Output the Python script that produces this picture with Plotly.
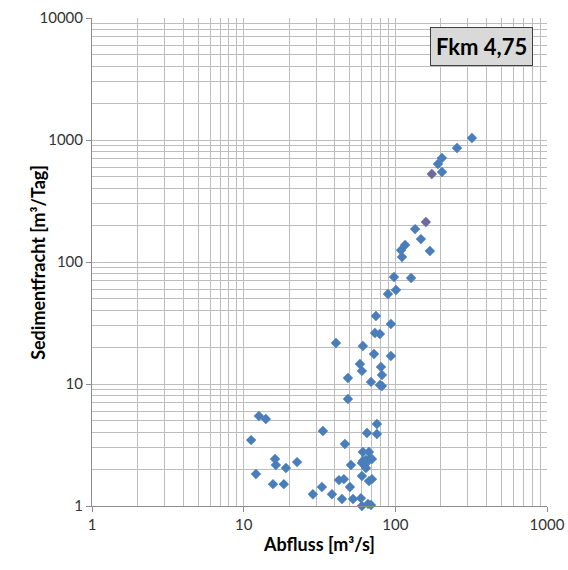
import plotly.graph_objects as go

# Abfluss [m³/s]
abfluss = [320, 255, 203, 191, 203, 135, 147.5, 116, 109, 110.6, 169, 98, 127, 101, 89.4,
           74.5, 93.5, 73.4, 79.1, 40.6, 61.1, 72.3, 93.5, 58.4, 60.2, 80.4, 81.6, 48.7, 69.1,
           79.1, 81.6, 48.7, 12.6, 14.0, 33.3, 11.2, 75.6, 65.0, 75.6, 46.5, 61.1, 67.0, 16.1,
           16.3, 22.5, 19.0, 12.05, 70.1, 67.0, 64.0, 61.1, 60.2, 63.0, 64.0, 51.0, 60.2, 70.1,
           67.0, 42.5, 45.8, 15.6, 18.4, 32.8, 50.2, 28.6, 38.2, 44.5, 52.6, 59.3, 60.2, 66.0, 69.1]
# Sedimentfracht [m³/Tag]
fracht = [1038, 860, 712, 636, 547, 186, 154, 138, 125, 110, 123, 75.4, 74, 59, 54.7,
          36.1, 31, 26.2, 25.7, 21.7, 20.5, 17.6, 16.97, 14.6, 12.8, 13.8, 11.85, 11.2, 10.4,
          9.82, 9.63, 7.54, 5.47, 5.17, 4.12, 3.47, 4.70, 3.97, 3.89, 3.22, 2.77, 2.77, 2.43,
          2.17, 2.29, 2.05, 1.83, 2.43, 2.38, 2.38, 2.34, 2.25, 2.21, 2.05, 2.17, 1.76, 1.66,
          1.60, 1.63, 1.66, 1.51, 1.51, 1.43, 1.43, 1.25, 1.25, 1.14, 1.14, 1.16, 1.0, 1.04, 1.02]
# points drawn in a darker, purple-grey tone
abfluss_dunkel = [174, 159]
fracht_dunkel = [526, 213]

x_ticks = [1, 10, 100, 1000]
y_ticks = [1, 10, 100, 1000, 10000]
x_minor = [m * d for d in [1, 10, 100] for m in range(2, 10)]
y_minor = [m * d for d in [1, 10, 100, 1000] for m in range(2, 10)]

FONT = "Lato, 'Open Sans', sans-serif"
GRID = "#BDBDBD"

fig = go.Figure()
fig.add_trace(go.Scatter(
    x=abfluss, y=fracht, mode="markers", cliponaxis=False,
    marker=dict(symbol="diamond", size=8, color="#4A7EBB"), showlegend=False))
fig.add_trace(go.Scatter(
    x=abfluss_dunkel, y=fracht_dunkel, mode="markers", cliponaxis=False,
    marker=dict(symbol="diamond", size=8, color="#6E6A9E"), showlegend=False))

axis_common = dict(
    type="log", showgrid=True, gridcolor=GRID, gridwidth=1,
    showline=True, linecolor="#8C8C8C", linewidth=1, mirror=False,
    ticks="outside", ticklen=5, tickcolor="#8C8C8C",
    tickfont=dict(family=FONT, size=15, color="#333333"),
    zeroline=False, automargin=False,
)

fig.update_xaxes(
    **axis_common, range=[0, 3],
    tickvals=x_ticks, ticktext=[str(v) for v in x_ticks],
    minor=dict(tickvals=x_minor, showgrid=True, gridcolor=GRID, gridwidth=1, ticks=""),
    title=dict(text="<b>Abfluss [m³/s]</b>", font=dict(family=FONT, size=18, color="#000000"),
               standoff=6),
)
fig.update_yaxes(
    **axis_common, range=[0, 4],
    tickvals=y_ticks, ticktext=[str(v) for v in y_ticks],
    minor=dict(tickvals=y_minor, showgrid=True, gridcolor=GRID, gridwidth=1, ticks=""),
)

# y-axis title placed close to the tick labels, as in the original
fig.add_annotation(
    xref="paper", yref="paper", x=-0.119, y=0.5, xanchor="center", yanchor="middle",
    text="<b>Sedimentfracht [m³/Tag]</b>", textangle=-90, showarrow=False,
    font=dict(family=FONT, size=18, color="#000000"),
)

fig.add_annotation(
    xref="paper", yref="paper", x=0.969, y=0.9816, xanchor="right", yanchor="top",
    text="<b>Fkm 4,75</b>", showarrow=False,
    font=dict(family=FONT, size=22, color="#000000"),
    bgcolor="#D9D9D9", bordercolor="#404040", borderwidth=1, borderpad=5,
)

fig.update_layout(
    width=568, height=570, autosize=False,
    margin=dict(l=92, r=21, t=18, b=64),
    paper_bgcolor="white", plot_bgcolor="white",
    font=dict(family=FONT),
)

fig.write_html("out.html")
